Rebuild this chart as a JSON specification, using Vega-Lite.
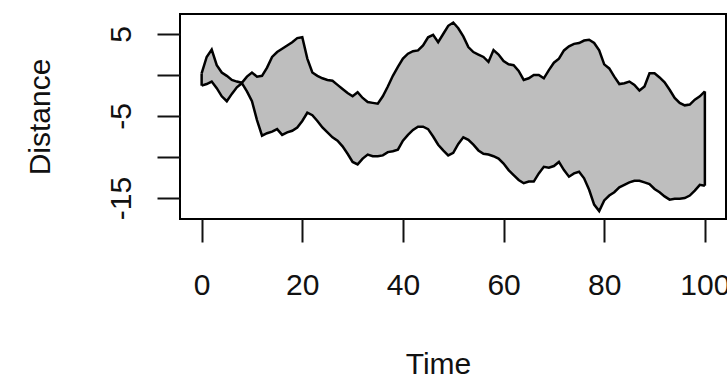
{
  "$schema": "https://vega.github.io/schema/vega-lite/v6.json",
  "autosize": {"type": "none"},
  "width": 546,
  "height": 205,
  "padding": {"left": 180, "top": 14, "right": 1, "bottom": 159},
  "background": "white",
  "config": {
    "view": {"stroke": "#000000", "strokeWidth": 2},
    "font": "Liberation Sans"
  },
  "data": {
    "values": [
      {"t": 0, "a": 0.2, "b": -1.3},
      {"t": 1, "a": 2.2, "b": -1.1},
      {"t": 2, "a": 3.1, "b": -0.8},
      {"t": 3, "a": 1.2, "b": -1.6},
      {"t": 4, "a": 0.3, "b": -2.6},
      {"t": 5, "a": -0.1, "b": -3.2},
      {"t": 6, "a": -0.6, "b": -2.3},
      {"t": 7, "a": -0.8, "b": -1.5},
      {"t": 8, "a": -0.95, "b": -1.0},
      {"t": 9, "a": -0.2, "b": -2.0},
      {"t": 10, "a": 0.3, "b": -3.2},
      {"t": 11, "a": -0.2, "b": -5.5},
      {"t": 12, "a": -0.1, "b": -7.4},
      {"t": 13, "a": 0.9, "b": -7.1},
      {"t": 14, "a": 2.2, "b": -6.9},
      {"t": 15, "a": 2.8, "b": -6.6},
      {"t": 16, "a": 3.2, "b": -7.3},
      {"t": 17, "a": 3.6, "b": -7.0},
      {"t": 18, "a": 4.0, "b": -6.8},
      {"t": 19, "a": 4.5, "b": -6.4},
      {"t": 20, "a": 4.6, "b": -5.6},
      {"t": 21, "a": 2.0, "b": -4.6},
      {"t": 22, "a": 0.3, "b": -4.9},
      {"t": 23, "a": -0.1, "b": -5.6},
      {"t": 24, "a": -0.4, "b": -6.4},
      {"t": 25, "a": -0.6, "b": -7.0},
      {"t": 26, "a": -0.7, "b": -7.6},
      {"t": 27, "a": -1.2, "b": -8.0},
      {"t": 28, "a": -1.7, "b": -8.7},
      {"t": 29, "a": -2.2, "b": -9.6},
      {"t": 30, "a": -2.6, "b": -10.6},
      {"t": 31, "a": -2.1, "b": -10.9},
      {"t": 32, "a": -2.8, "b": -10.2},
      {"t": 33, "a": -3.3, "b": -9.7},
      {"t": 34, "a": -3.4, "b": -9.9},
      {"t": 35, "a": -3.5, "b": -9.9},
      {"t": 36, "a": -2.6, "b": -9.8},
      {"t": 37, "a": -1.4, "b": -9.4},
      {"t": 38, "a": -0.1, "b": -9.3},
      {"t": 39, "a": 1.0, "b": -9.1},
      {"t": 40, "a": 2.0, "b": -8.0},
      {"t": 41, "a": 2.6, "b": -7.3},
      {"t": 42, "a": 2.9, "b": -6.7},
      {"t": 43, "a": 3.0, "b": -6.3},
      {"t": 44, "a": 3.6, "b": -6.3},
      {"t": 45, "a": 4.6, "b": -6.6},
      {"t": 46, "a": 4.9, "b": -7.5},
      {"t": 47, "a": 4.0, "b": -8.5},
      {"t": 48, "a": 5.0, "b": -9.2},
      {"t": 49, "a": 6.0, "b": -9.8},
      {"t": 50, "a": 6.4, "b": -9.5},
      {"t": 51, "a": 5.7, "b": -8.4},
      {"t": 52, "a": 4.7, "b": -7.6},
      {"t": 53, "a": 3.4, "b": -7.9},
      {"t": 54, "a": 2.8, "b": -8.5},
      {"t": 55, "a": 2.5, "b": -9.2},
      {"t": 56, "a": 2.2, "b": -9.6},
      {"t": 57, "a": 1.6, "b": -9.7},
      {"t": 58, "a": 3.05, "b": -9.9},
      {"t": 59, "a": 2.5, "b": -10.2},
      {"t": 60, "a": 1.7, "b": -10.8},
      {"t": 61, "a": 1.3, "b": -11.6},
      {"t": 62, "a": 1.2, "b": -12.2},
      {"t": 63, "a": 0.5, "b": -12.8},
      {"t": 64, "a": -0.6, "b": -13.2},
      {"t": 65, "a": -0.4, "b": -13.0},
      {"t": 66, "a": 0.0, "b": -13.0},
      {"t": 67, "a": 0.0, "b": -12.0},
      {"t": 68, "a": -0.4, "b": -11.2},
      {"t": 69, "a": 0.6, "b": -11.3},
      {"t": 70, "a": 1.5, "b": -11.1},
      {"t": 71, "a": 2.0, "b": -10.6},
      {"t": 72, "a": 3.0, "b": -11.6},
      {"t": 73, "a": 3.5, "b": -12.4},
      {"t": 74, "a": 3.8, "b": -12.0},
      {"t": 75, "a": 3.9, "b": -11.8},
      {"t": 76, "a": 4.2, "b": -12.6},
      {"t": 77, "a": 4.3, "b": -14.0},
      {"t": 78, "a": 3.9, "b": -15.8},
      {"t": 79, "a": 3.0, "b": -16.6},
      {"t": 80, "a": 1.3, "b": -15.3},
      {"t": 81, "a": 0.8, "b": -14.7},
      {"t": 82, "a": -0.2, "b": -14.3},
      {"t": 83, "a": -1.1, "b": -13.7},
      {"t": 84, "a": -1.0, "b": -13.4},
      {"t": 85, "a": -0.8, "b": -13.1},
      {"t": 86, "a": -1.2, "b": -12.9},
      {"t": 87, "a": -1.9, "b": -12.9},
      {"t": 88, "a": -1.4, "b": -13.1},
      {"t": 89, "a": 0.2, "b": -13.3},
      {"t": 90, "a": 0.2, "b": -13.9},
      {"t": 91, "a": -0.3, "b": -14.3},
      {"t": 92, "a": -0.9, "b": -14.8},
      {"t": 93, "a": -1.8, "b": -15.2},
      {"t": 94, "a": -2.8, "b": -15.1},
      {"t": 95, "a": -3.4, "b": -15.1},
      {"t": 96, "a": -3.7, "b": -15.0},
      {"t": 97, "a": -3.6, "b": -14.7},
      {"t": 98, "a": -3.0, "b": -14.1},
      {"t": 99, "a": -2.6, "b": -13.4},
      {"t": 100, "a": -2.0, "b": -13.5}
    ]
  },
  "encoding": {
    "x": {
      "field": "t",
      "type": "quantitative",
      "scale": {"domain": [-4.3, 104.2], "nice": false, "zero": false},
      "axis": {
        "title": "Time",
        "values": [0, 20, 40, 60, 80, 100],
        "domain": false,
        "grid": false,
        "tickSize": 23,
        "tickWidth": 2,
        "tickColor": "#111111",
        "labelFontSize": 30,
        "labelColor": "#111111",
        "labelPadding": 28,
        "labelFont": "Liberation Sans",
        "labelOverlap": false,
        "labelFlush": false,
        "titleFontSize": 30,
        "titleFontWeight": "normal",
        "titleFont": "Liberation Sans",
        "titleColor": "#111111",
        "titleX": 258,
        "titleY": 154,
        "titleAlign": "center",
        "titleBaseline": "alphabetic"
      }
    }
  },
  "layer": [
    {
      "mark": {"type": "area", "fill": "#bebebe", "stroke": null},
      "encoding": {
        "y": {
          "field": "a",
          "type": "quantitative",
          "scale": {"domain": [-17.56, 7.44], "nice": false, "zero": false},
          "axis": {
            "title": "Distance",
            "values": [-15, -10, -5, 0, 5],
            "labelExpr": "datum.value % 10 == 0 ? '' : toString(datum.value)",
            "domain": false,
            "grid": false,
            "tickSize": 23,
            "tickWidth": 2,
            "tickColor": "#111111",
            "labelFontSize": 30,
            "labelColor": "#111111",
            "labelAngle": -90,
            "labelAlign": "center",
            "labelBaseline": "bottom",
            "labelPadding": 21,
            "labelFont": "Liberation Sans",
            "labelOverlap": false,
            "labelFlush": false,
            "titleFontSize": 30,
            "titleFontWeight": "normal",
            "titleFont": "Liberation Sans",
            "titleColor": "#111111",
            "titleAngle": -90,
            "titleX": -131,
            "titleY": 102.5,
            "titleAlign": "center",
            "titleBaseline": "alphabetic"
          }
        },
        "y2": {"field": "b"}
      }
    },
    {
      "transform": [{"fold": ["a", "b"], "as": ["series", "v"]}],
      "mark": {"type": "line", "color": "#000000", "strokeWidth": 2.5},
      "encoding": {
        "y": {"field": "v", "type": "quantitative"},
        "detail": {"field": "series"}
      }
    },
    {
      "transform": [{"filter": "datum.t == 0 || datum.t == 100"}],
      "mark": {"type": "rule", "color": "#000000", "strokeWidth": 2.5},
      "encoding": {
        "y": {"field": "a", "type": "quantitative"},
        "y2": {"field": "b"}
      }
    }
  ]
}
